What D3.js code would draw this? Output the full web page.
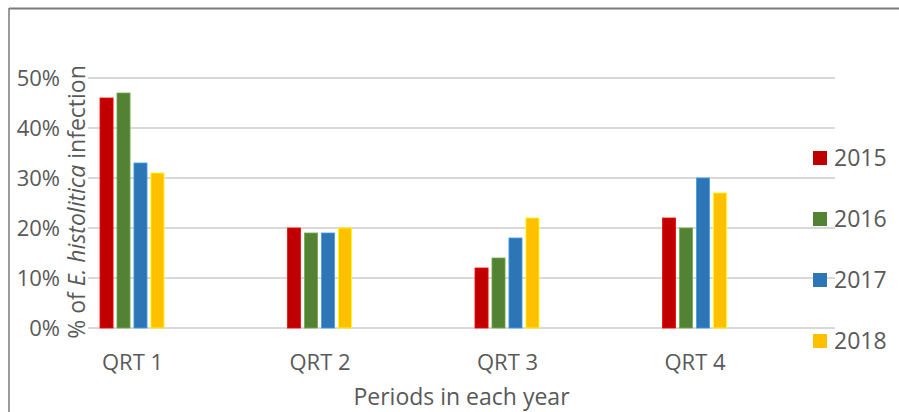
<!DOCTYPE html>
<html>
<head>
<meta charset="utf-8">
<script src="https://cdn.jsdelivr.net/npm/d3@7"></script>
<style>
  html, body { margin: 0; padding: 0; background: #fff; }
  svg { display: block; }
  text { font-family: "Open Sans", "Noto Sans", sans-serif; fill: #595959; }
</style>
</head>
<body>
<svg id="chart" width="899" height="412"></svg>
<script>
// Quarterly infection rates per year
const categories = ["QRT 1", "QRT 2", "QRT 3", "QRT 4"];
const years = ["2015", "2016", "2017", "2018"];
const values2015 = [0.46, 0.20, 0.12, 0.22];
const values2016 = [0.47, 0.19, 0.14, 0.20];
const values2017 = [0.33, 0.19, 0.18, 0.30];
const values2018 = [0.31, 0.20, 0.22, 0.27];
const yTicks = [0, 0.1, 0.2, 0.3, 0.4, 0.5];
const colors = ["#C00000", "#548235", "#2E75B6", "#FFC000"];

const series = [values2015, values2016, values2017, values2018];

const svg = d3.select("#chart");

// Frame: top and left edges
svg.append("line").attr("x1", 9).attr("x2", 899).attr("y1", 8.5).attr("y2", 8.5)
  .attr("stroke", "#7a7a7a").attr("stroke-width", 2);
svg.append("line").attr("x1", 9).attr("x2", 9).attr("y1", 8).attr("y2", 412)
  .attr("stroke", "#7a7a7a").attr("stroke-width", 1.5);

const plotLeft = 88, plotRight = 835;
const y = d3.scaleLinear().domain([0, 0.5]).range([328, 78]);
const x = d3.scalePoint().domain(categories).range([132, 694.5]);
const xInner = d3.scaleBand().domain(years).range([-32, 32]).paddingInner(0.23);

// Gridlines
svg.append("g").selectAll("line").data(yTicks).join("line")
  .attr("x1", plotLeft).attr("x2", plotRight)
  .attr("y1", d => y(d)).attr("y2", d => y(d))
  .attr("stroke", "#d9d9d9").attr("stroke-width", 2);

// Y axis labels
const yAxis = d3.axisLeft(y).tickValues(yTicks).tickFormat(d3.format(".0%")).tickSize(0).tickPadding(0);
const yg = svg.append("g").attr("transform", "translate(60,0)").call(yAxis);
yg.select(".domain").remove();
yg.selectAll("text").attr("font-size", 22).attr("font-family", "\"Open Sans\", sans-serif")
  .attr("fill", "#595959").attr("dy", "0.36em");

// Bars
const groups = svg.append("g").selectAll("g").data(categories).join("g")
  .attr("transform", d => `translate(${x(d)},0)`);
groups.selectAll("rect")
  .data((c, i) => years.map((yr, s) => ({ yr, s, v: series[s][i] })))
  .join("rect")
  .attr("x", d => xInner(d.yr))
  .attr("width", xInner.bandwidth())
  .attr("y", d => y(d.v))
  .attr("height", d => y(0) - y(d.v))
  .attr("fill", d => colors[d.s])
  .attr("stroke", d => d3.color(colors[d.s]).brighter(0.8))
  .attr("stroke-width", 0.8);

// X axis labels
const xAxis = d3.axisBottom(x).tickSize(0).tickPadding(0);
const xg = svg.append("g").attr("transform", "translate(0,370)").call(xAxis);
xg.select(".domain").remove();
xg.selectAll("text").attr("font-size", 22).attr("font-family", "\"Open Sans\", sans-serif")
  .attr("fill", "#595959").attr("y", 0).attr("dy", "0");

// Axis titles
svg.append("text").attr("x", (plotLeft + plotRight) / 2).attr("y", 405)
  .attr("text-anchor", "middle").attr("font-size", 23).text("Periods in each year");

const yt = svg.append("text")
  .attr("transform", "translate(85,202) rotate(-90)")
  .attr("text-anchor", "middle").attr("font-size", 23);
yt.append("tspan").text("% of ");
yt.append("tspan").attr("font-style", "italic").text("E. histolitica");
yt.append("tspan").text(" infection");

// Legend
const legend = svg.append("g").selectAll("g").data(years).join("g")
  .attr("transform", (d, i) => `translate(813,${158 + i * 61})`);
legend.append("rect").attr("x", 0).attr("y", -7).attr("width", 14).attr("height", 14)
  .attr("fill", (d, i) => colors[i]);
legend.append("text").attr("x", 21).attr("y", 0).attr("dy", "0.36em")
  .attr("font-size", 23).text(d => d);
</script>
</body>
</html>
